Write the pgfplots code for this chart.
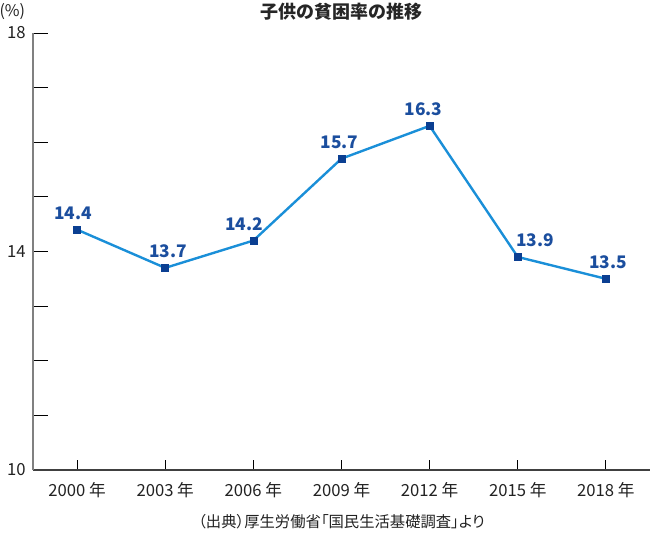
\documentclass[border=0pt]{standalone}
\usepackage{pgfplots}
\pgfplotsset{compat=1.18}
\usepackage{fontspec}
\setmainfont{Noto Sans CJK JP}
\definecolor{linecol}{HTML}{1A8FD8}
\definecolor{markcol}{HTML}{0B3F92}
\definecolor{labcol}{HTML}{1B4E9E}
\definecolor{axgray}{HTML}{808080}
\definecolor{txt}{HTML}{222222}

\pgfplotstableread{
x y dx
0 14.4 -3
1 13.7 2
2 14.2 -7
3 15.7 -1.5
4 16.3 -4.5
5 13.9 13
6 13.5 1.5
}\rate

\begin{document}
\begin{tikzpicture}
\begin{axis}[
  at={(0,0)}, anchor=south west,
  scale only axis,
  width=462.75pt, height=327.75pt,
  xmin=-0.5, xmax=6.5,
  ymin=10, ymax=18,
  axis x line*=bottom, axis y line*=left,
  x axis line style={draw=black!75, line width=1.1pt, -},
  y axis line style={draw=axgray, line width=1.5pt, -},
  xtick={0,...,6},
  xticklabels={2000 年,2003 年,2006 年,2009 年,2012 年,2015 年,2018 年},
  ytick={10,14,18},
  minor ytick={11,12,13,15,16,17},
  tick align=inside,
  major tick length=11.25pt,
  minor tick length=11.25pt,
  xtick style={/pgfplots/major tick length=7.5pt},
  tick style={black, line width=0.7pt},
  ticklabel style={font=\fontsize{12.5}{14}\selectfont, text=txt},
  xticklabel style={yshift=-6pt},
  yticklabel style={xshift=-2pt},
  /pgf/number format/assume math mode=true,
  clip=false,
]
\addplot[
  color=linecol, line width=1.8pt,
  mark=square*, mark size=2.6pt,
  mark options={fill=markcol, draw=markcol, line width=0.4pt, solid},
  nodes near coords,
  point meta=explicit,
  visualization depends on={\thisrow{dx} \as \dx},
  nodes near coords style={xshift=\dx pt, yshift=4pt, text=labcol,
    font=\bfseries\fontsize{13}{15}\selectfont,
    /pgf/number format/.cd, fixed, fixed zerofill, precision=1, assume math mode=true},
] table[x=x, y=y, meta=y] {\rate};

\node[font=\fontsize{12}{14}\selectfont, text=txt] at (rel axis cs:0,1) [xshift=-15.5pt, yshift=16pt] {(\%)};
\node[font=\bfseries\fontsize{13.5}{15}\selectfont, text=black!85] at (rel axis cs:0.5,1) [yshift=16pt] {子供の貧困率の推移};
\node[font=\fontsize{11.5}{13}\selectfont\addfontfeature{RawFeature=+palt}, text=txt] at (rel axis cs:0.5,0) [yshift=-39pt] {（出典）厚生労働省「国民生活基礎調査」より};
\end{axis}
\pgfresetboundingbox
\path[use as bounding box] (-24.75pt,-48.75pt) rectangle (462.75pt,352.5pt);
\end{tikzpicture}
\end{document}
